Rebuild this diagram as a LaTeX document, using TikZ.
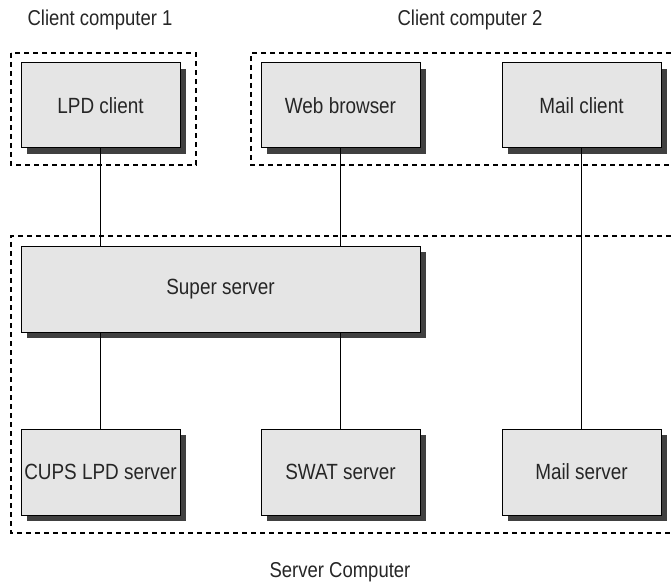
\documentclass[tikz,border=0pt]{standalone}
\usepackage{fontspec}
\setmainfont[FakeStretch=0.86]{Liberation Sans}
\usepackage{tikz}
\usetikzlibrary{shadows}
\definecolor{boxgray}{RGB}{229,229,229}
\definecolor{shadowgray}{RGB}{64,64,64}
\tikzset{
  box/.style={draw=black,line width=1pt,fill=boxgray,minimum width=159pt,
    minimum height=85pt,inner sep=0pt,text=black!85,font=\fontsize{22}{25}\selectfont,
    drop shadow={shadow xshift=6pt,shadow yshift=-6pt,fill=shadowgray,opacity=1}},
  frame/.style={line width=1.4pt,dash pattern=on 5pt off 4pt},
  lbl/.style={text=black!85,font=\fontsize{21.5}{24}\selectfont},
  link/.style={line width=0.8pt}
}
\begin{document}
\begin{tikzpicture}[x=1pt,y=-1pt]
        \useasboundingbox (0,0) rectangle (671,585);
        % dashed machine outlines
        \draw[frame] (11,53) rectangle (196,165);
        \draw[frame] (671,53) -| (251,165) -- (671,165);
        \draw[frame] (671,236) -| (11,533) -- (671,533);
        \node[lbl] (cc1) at (100,20) {Client computer 1};
        \node[lbl] (cc2) at (470,20) {Client computer 2};
        \node[lbl] (sc) at (340,572) {Server Computer};
        % programs
        \node[box] (lpd) at (100.5,105.5) {LPD client};
        \node[box] (web) at (340.5,105.5) {Web browser};
        \node[box] (mailc) at (581.5,105.5) {Mail client};
        \node[box,minimum width=399pt,minimum height=86pt] (super) at (220.5,289) {Super server};
        \node[box,minimum height=86pt] (cups) at (100.5,472) {CUPS LPD server};
        \node[box,minimum height=86pt] (swat) at (340.5,472) {SWAT server};
        \node[box,minimum height=86pt] (mails) at (581.5,472) {Mail server};
        % connections
        \draw[link] (lpd.south) -- (lpd.south |- super.north);
        \draw[link] (web.south) -- (web.south |- super.north);
        \draw[link] (cups.north |- super.south) -- (cups.north);
        \draw[link] (swat.north |- super.south) -- (swat.north);
        \draw[link] (mailc.south) -- (mails.north);
\end{tikzpicture}
\end{document}
